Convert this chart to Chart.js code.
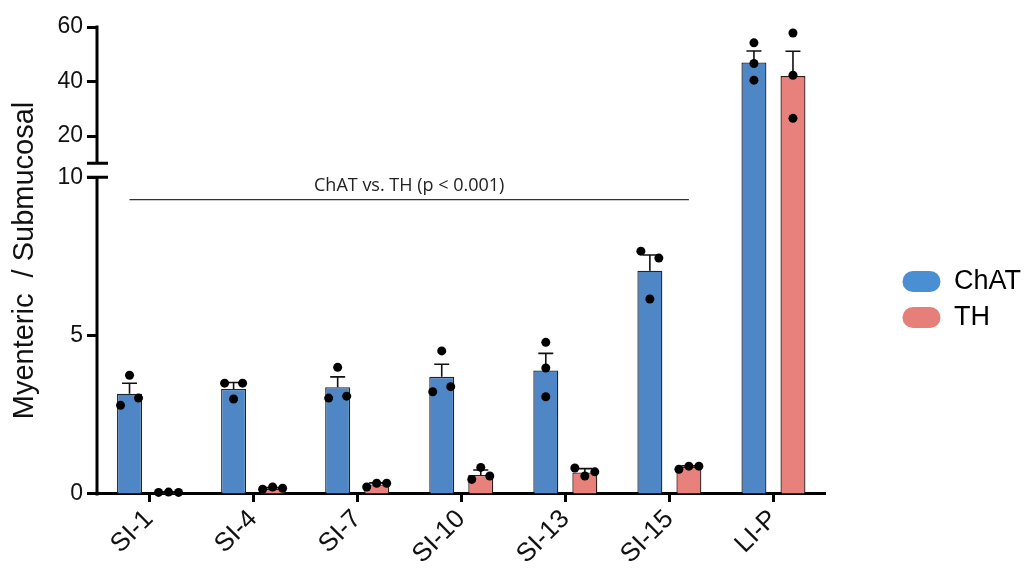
<!DOCTYPE html>
<html><head><meta charset="utf-8">
<script src="https://cdn.jsdelivr.net/npm/chart.js@4/dist/chart.umd.min.js"></script>
<style>html,body{margin:0;padding:0;background:#fff;} #wrap{width:1031px;height:574px;position:relative;}</style>
</head><body><div id="wrap"><canvas id="c"></canvas></div>
<script>
// ---- data ----
const categories = ['SI-1','SI-4','SI-7','SI-10','SI-13','SI-15','LI-P'];
const seriesNames = ['ChAT','TH'];
const chatMean = [3.17, 3.32, 3.37, 3.70, 3.90, 7.05, 47.0];
const chatSem  = [0.33, 0.20, 0.33, 0.40, 0.54, 0.50, 4.2];
const thMean   = [0.05, 0.17, 0.30, 0.60, 0.68, 0.86, 42.0];
const thSem    = [0.02, 0.03, 0.05, 0.16, 0.12, 0.03, 9.1];
const chatPoints = [[2.80,3.75,3.03],[3.50,3.00,3.50],[3.03,4.00,3.09],[3.23,4.52,3.39],[4.79,3.98,3.07],[7.67,7.45,6.16],[54.2,46.6,40.5]];
const thPoints   = [[0.05,0.06,0.05],[0.15,0.22,0.18],[0.22,0.34,0.34],[0.46,0.84,0.57],[0.82,0.57,0.70],[0.78,0.88,0.88],[57.8,42.3,26.5]];
const yTicks = [0, 5, 10, 20, 40, 60];
const yBreak = 10;
const yTitle = 'Myenteric  / Submucosal';
const statLabel = 'ChAT vs. TH (p < 0.001)';
const statLineValue = 9.3;

// ---- broken axis layout ----
const LOW_FRAC = 0.678, GAP_FRAC = 0.030;
const barColors = ['#4f86c6', '#e8817b'];
const barBorders = ['#1b2433', '#2e1b1b'];
const legendColors = ['#4a8fd3', '#e67f79'];
const FONT = '"Liberation Sans", Arial, Helvetica, sans-serif';

class BrokenLinearScale extends Chart.LinearScale {
  getPixelForValue(value) {
    let d;
    if (value <= yBreak) d = (value - this.min) / (yBreak - this.min) * LOW_FRAC;
    else d = LOW_FRAC + GAP_FRAC + (value - yBreak) / (this.max - yBreak) * (1 - LOW_FRAC - GAP_FRAC);
    return this.getPixelForDecimal(d);
  }
  getValueForPixel(pixel) {
    const d = this.getDecimalForPixel(pixel);
    if (d <= LOW_FRAC) return this.min + d / LOW_FRAC * (yBreak - this.min);
    if (d < LOW_FRAC + GAP_FRAC) return yBreak;
    return yBreak + (d - LOW_FRAC - GAP_FRAC) / (1 - LOW_FRAC - GAP_FRAC) * (this.max - yBreak);
  }
}
BrokenLinearScale.id = 'brokenLinear';
BrokenLinearScale.defaults = Chart.LinearScale.defaults;
Chart.register(BrokenLinearScale);

const overlay = {
  id: 'overlay',
  afterDatasetsDraw(chart) {
    const ctx = chart.ctx, y = chart.scales.y, area = chart.chartArea;
    const groups = [[0, chatMean, chatSem, chatPoints], [1, thMean, thSem, thPoints]];
    // error bars
    groups.forEach(([di, means, sems]) => {
      chart.getDatasetMeta(di).data.forEach((bar, i) => {
        const x = bar.x;
        const top = y.getPixelForValue(means[i]);
        const eTop = y.getPixelForValue(means[i] + sems[i]);
        ctx.save();
        ctx.strokeStyle = '#111'; ctx.lineWidth = 1.6;
        ctx.beginPath();
        ctx.moveTo(x, top); ctx.lineTo(x, eTop);
        ctx.moveTo(x - 7.5, eTop); ctx.lineTo(x + 7.5, eTop);
        ctx.stroke(); ctx.restore();
      });
    });
    // individual points
    groups.forEach(([di, , , pts]) => {
      chart.getDatasetMeta(di).data.forEach((bar, i) => {
        const vals = pts[i];
        const ys = vals.map(v => y.getPixelForValue(v));
        const parent = ys.map((_, k) => k);
        const find = k => parent[k] === k ? k : (parent[k] = find(parent[k]));
        for (let a = 0; a < ys.length; a++) for (let b = a + 1; b < ys.length; b++)
          if (Math.abs(ys[a] - ys[b]) < 8) parent[find(b)] = find(a);
        const clusters = {};
        ys.forEach((_, k) => { const r = find(k); (clusters[r] = clusters[r] || []).push(k); });
        Object.values(clusters).forEach(g => {
          const m = g.length;
          const sp = m > 1 ? Math.min(18, bar.width * 0.8 / (m - 1)) : 0;
          g.forEach((k, j) => {
            const px = bar.x + (j - (m - 1) / 2) * sp;
            ctx.beginPath(); ctx.arc(px, ys[k], 4.5, 0, Math.PI * 2);
            ctx.fillStyle = '#000'; ctx.fill();
          });
        });
      });
    });
    // broken y axis line + break marks
    const ax = area.left;
    const lowTop = y.getPixelForValue(yBreak);
    const highBottom = y.getPixelForDecimal(LOW_FRAC + GAP_FRAC);
    ctx.save();
    ctx.strokeStyle = '#000'; ctx.lineWidth = 3;
    ctx.beginPath();
    ctx.moveTo(ax, area.bottom + 1.5); ctx.lineTo(ax, lowTop);
    ctx.moveTo(ax, highBottom); ctx.lineTo(ax, area.top - 1.5);
    ctx.moveTo(ax - 10, lowTop); ctx.lineTo(ax + 11, lowTop);
    ctx.moveTo(ax - 10, highBottom); ctx.lineTo(ax + 11, highBottom);
    ctx.stroke();
    ctx.restore();
    // statistics annotation
    const x1 = chart.getDatasetMeta(0).data[0].x;
    const x2 = chart.getDatasetMeta(1).data[5].x;
    const yl = y.getPixelForValue(statLineValue);
    ctx.save();
    ctx.strokeStyle = '#333'; ctx.lineWidth = 1.2;
    ctx.beginPath(); ctx.moveTo(x1, yl); ctx.lineTo(x2, yl); ctx.stroke();
    ctx.fillStyle = '#222'; ctx.font = '18px "Open Sans", "Noto Sans", sans-serif';
    ctx.textAlign = 'center'; ctx.textBaseline = 'alphabetic';
    ctx.fillText(statLabel, (x1 + x2) / 2, yl - 9);
    ctx.restore();
  }
};

Chart.defaults.font.family = FONT;
Chart.defaults.color = '#111';

new Chart(document.getElementById('c'), {
  type: 'bar',
  data: {
    labels: categories,
    datasets: [
      { label: seriesNames[0], data: chatMean, backgroundColor: barColors[0], borderColor: barBorders[0], borderWidth: 1.3 },
      { label: seriesNames[1], data: thMean, backgroundColor: barColors[1], borderColor: barBorders[1], borderWidth: 1.3 }
    ]
  },
  options: {
    responsive: true, maintainAspectRatio: false, animation: false,
    datasets: { bar: { barPercentage: 0.64, categoryPercentage: 0.75 } },
    layout: { padding: { top: 27, left: 8, right: 0, bottom: 2 } },
    plugins: {
      tooltip: { enabled: false },
      legend: {
        position: 'right',
        labels: {
          boxWidth: 38, boxHeight: 21, padding: 9, color: '#111',
          font: { size: 27, family: FONT },
          useBorderRadius: true, borderRadius: 10.5,
          generateLabels: chart => chart.data.datasets.map((ds, i) => ({
            text: ds.label, fillStyle: legendColors[i], strokeStyle: legendColors[i],
            lineWidth: 0, borderRadius: 10.5, datasetIndex: i, hidden: false
          }))
        }
      }
    },
    scales: {
      x: {
        type: 'category',
        grid: { display: true, drawOnChartArea: false, offset: false, tickLength: 8, tickWidth: 3, tickColor: '#000' },
        border: { display: true, width: 3, color: '#000' },
        ticks: { font: { size: 26 }, maxRotation: 45, minRotation: 45, padding: 2, color: '#111' }
      },
      y: {
        type: 'brokenLinear', position: 'left', min: 0, max: 60,
        afterBuildTicks: s => { s.ticks = yTicks.map(v => ({ value: v })); },
        afterFit: s => { s.width = 89; },
        grid: { display: true, drawOnChartArea: false, tickLength: 10, tickWidth: 3, tickColor: '#000' },
        border: { display: false },
        ticks: { font: { size: 23 }, padding: 4, autoSkip: false, color: '#111' },
        title: { display: true, text: yTitle, font: { size: 29 }, color: '#111', padding: { top: 0, bottom: 0 } }
      },
      pad: {
        type: 'linear', position: 'right', display: true,
        grid: { display: false }, border: { display: false }, ticks: { display: false },
        afterFit: s => { s.width = 68; }
      }
    }
  },
  plugins: [overlay]
});
</script></body></html>
